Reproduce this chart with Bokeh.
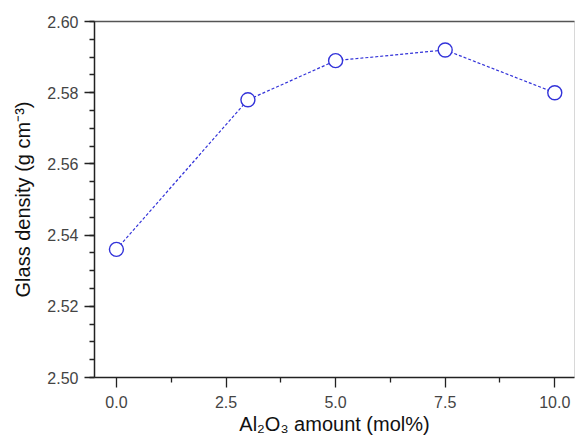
from bokeh.plotting import figure
from bokeh.models import FixedTicker, LinearAxis, NumeralTickFormatter, Range1d
from bokeh.embed import file_html
from bokeh.resources import INLINE

al2o3 = [0.0, 3.0, 5.0, 7.5, 10.0]
density = [2.536, 2.578, 2.589, 2.592, 2.580]
x_ticks = [0.0, 2.5, 5.0, 7.5, 10.0]
x_minor = [1.25, 3.75, 6.25, 8.75]
y_ticks = [2.50, 2.52, 2.54, 2.56, 2.58, 2.60]
y_minor = [2.50 + 0.005 * i for i in range(21)]

BLUE = "#3333d9"
FONT = "Liberation Sans"

p = figure(width=575, height=437, output_backend="svg", toolbar_location=None,
           x_range=Range1d(-0.5, 10.45), y_range=Range1d(2.50, 2.60),
           min_border_left=94, min_border_top=21, min_border_bottom=60, min_border_right=1,
           x_axis_label="Al₂O₃ amount (mol%)", y_axis_label="Glass density (g cm⁻³)")

p.grid.visible = False
p.outline_line_color = "#d8d8d8"
p.background_fill_color = "white"
p.border_fill_color = "white"

for ax in (p.xaxis[0], p.yaxis[0]):
    ax.axis_line_color = "#222222"
    ax.axis_line_width = 1.5
    ax.major_tick_line_color = "#222222"
    ax.minor_tick_line_color = "#222222"
    ax.major_tick_line_width = 1.3
    ax.minor_tick_line_width = 1.3
    ax.major_tick_in = 0
    ax.minor_tick_in = 0
    ax.major_tick_out = 10
    ax.minor_tick_out = 5
    ax.major_label_text_font = FONT
    ax.major_label_text_font_size = "16px"
    ax.major_label_text_color = "#444444"
    ax.axis_label_text_font = FONT
    ax.axis_label_text_font_size = "20px"
    ax.axis_label_text_font_style = "normal"
    ax.axis_label_text_color = "#111111"

p.xaxis[0].ticker = FixedTicker(ticks=x_ticks, minor_ticks=x_minor)
p.xaxis[0].formatter = NumeralTickFormatter(format="0.0")
p.xaxis[0].major_label_standoff = 8
p.xaxis[0].axis_label_standoff = 2
p.yaxis[0].ticker = FixedTicker(ticks=y_ticks, minor_ticks=y_minor)
p.yaxis[0].formatter = NumeralTickFormatter(format="0.00")
p.yaxis[0].major_label_standoff = 6
p.yaxis[0].axis_label_standoff = 10

top = LinearAxis(ticker=FixedTicker(ticks=[], minor_ticks=[]),
                 major_tick_line_color=None, minor_tick_line_color=None,
                 major_label_standoff=0, axis_line_color="#555555", axis_line_width=1.5)
p.add_layout(top, "above")

p.line(al2o3, density, line_color=BLUE, line_width=1.2, line_dash="3 2")
p.scatter(al2o3, density, size=14, fill_color="white", line_color=BLUE, line_width=1.4)

open("out.html", "w").write(file_html(p, INLINE))
